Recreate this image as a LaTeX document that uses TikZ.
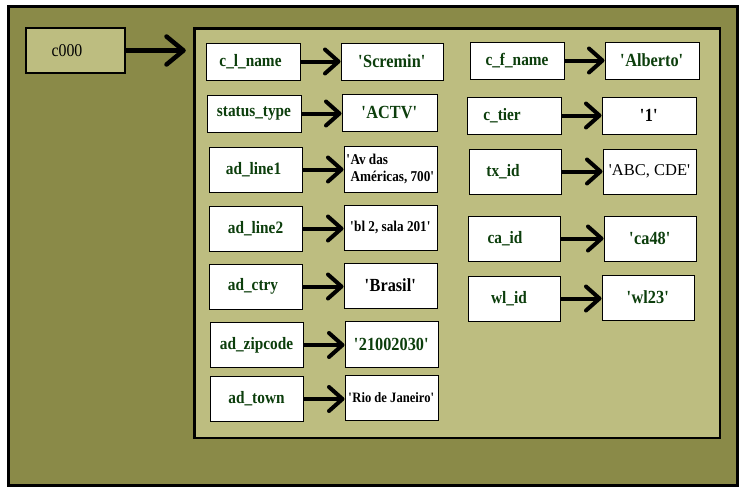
\documentclass[tikz,border=0pt]{standalone}
\usepackage{fontspec}
\setmainfont{Liberation Serif}[FakeStretch=0.88]
\newfontfamily\plainserif{Liberation Serif}
\usetikzlibrary{arrows.meta}
\definecolor{outerolive}{RGB}{138,138,72}
\definecolor{innerolive}{RGB}{189,189,128}
\definecolor{keygreen}{RGB}{12,62,12}
\newcommand{\qt}[1]{\textquotesingle#1\textquotesingle}
\tikzset{
	field/.style={draw, fill=white, line width=1pt, inner sep=0pt,
		minimum width=93pt, minimum height=45pt},
	keybox/.style={field, text=keygreen, font=\bfseries\fontsize{17.4}{19}\selectfont},
	valbox/.style={field, font=\bfseries\fontsize{18.5}{20}\selectfont},
	small/.style={font=\bfseries\fontsize{15}{16.5}\selectfont},
	short/.style={minimum height=37pt},
	link/.style={line width=4pt, -{Straight Barb[length=13.5pt,width=24pt,round]}},
	biglink/.style={line width=4.5pt, -{Straight Barb[length=17pt,width=28pt,round]}}
}

\begin{document}
\begin{tikzpicture}[x=1pt, y=-1pt]
	\useasboundingbox (0,0) rectangle (755,498);
	\draw[line width=3pt, fill=outerolive] (8,6.5) rectangle (737.5,485.5);
	\node[draw, line width=2.5pt, fill=innerolive, minimum width=525.5pt,
		minimum height=409.3pt] (rec) at (457.25,233.35) {};
	\node[draw, line width=2.5pt, fill=innerolive, minimum width=99pt,
		minimum height=45pt, font=\fontsize{18}{20}\selectfont] (c000) at (75.5,50.5) {c000\hspace*{17pt}};
	\draw[biglink, shorten >=7.5pt] (c000.east) -- (c000.east -| rec.west);
	% left column
	\node[keybox, short, minimum width=94pt] (k1) at (253,61.5) {c\_l\_name\hspace*{5pt}};
	\node[keybox, short, minimum width=94pt] (k2) at (254,113.5) {status\_type};
	\node[keybox] (k3) at (255.5,169.5) {ad\_line1\hspace*{4pt}};
	\node[keybox] (k4) at (255.5,228.5) {ad\_line2};
	\node[keybox] (k5) at (255.5,286.5) {ad\_ctry\hspace*{5pt}};
	\node[keybox] (k6) at (256.5,345) {ad\_zipcode};
	\node[keybox] (k7) at (256.5,399) {ad\_town};
	\node[valbox, short, minimum width=102pt, text=keygreen] (v1) at (392,61.5) {\qt{Scremin}};
	\node[valbox, short, minimum width=95pt, text=keygreen] (v2) at (389.5,112.5) {\qt{ACTV}};
	\node[valbox, small, align=left, minimum height=46pt] (v3) at (390.5,169)
		{\textquotesingle Av das\\\hphantom{\textquotesingle}Américas, 700\textquotesingle};
	\node[valbox, small] (v4) at (390.5,227.5) {\qt{bl 2, sala 201}};
	\node[valbox] (v5) at (390.5,285.5) {\qt{Brasil}};
	\node[valbox, text=keygreen, minimum height=46pt] (v6) at (391.5,344) {\qt{21002030}};
	\node[valbox, small, font=\bfseries\fontsize{14.3}{16}\selectfont] (v7) at (391.5,397.5) {\qt{Rio de Janeiro}};
	% right column
	\node[keybox, short, minimum width=94pt] (k8) at (517,60.5) {c\_f\_name};
	\node[keybox, short, minimum width=94pt] (k9) at (514,115.5) {c\_tier\hspace*{24pt}};
	\node[keybox, minimum width=92pt] (k10) at (515,171.5) {tx\_id\hspace*{24pt}};
	\node[keybox, minimum width=92pt] (k11) at (514,238.5) {ca\_id\hspace*{18pt}};
	\node[keybox, minimum width=92pt] (k12) at (514,298.5) {wl\_id\hspace*{10pt}};
	\node[valbox, short, minimum width=94pt, text=keygreen] (v8) at (652,60.5) {\qt{Alberto}};
	\node[valbox, short, minimum width=94pt] (v9) at (649,115.5) {\qt{1}};
	\node[valbox, font=\plainserif\fontsize{16.5}{18}\selectfont] (v10) at (649.5,171.5) {\qt{ABC, CDE}};
	\node[valbox, minimum width=92pt, text=keygreen] (v11) at (650,238.5) {\qt{ca48}};
	\node[valbox, minimum width=92pt, text=keygreen] (v12) at (648,297.5) {\qt{wl23}};
	\foreach \i in {1,...,12}
		\draw[link] (k\i.east) -- (k\i.east -| v\i.west);
\end{tikzpicture}
\end{document}
